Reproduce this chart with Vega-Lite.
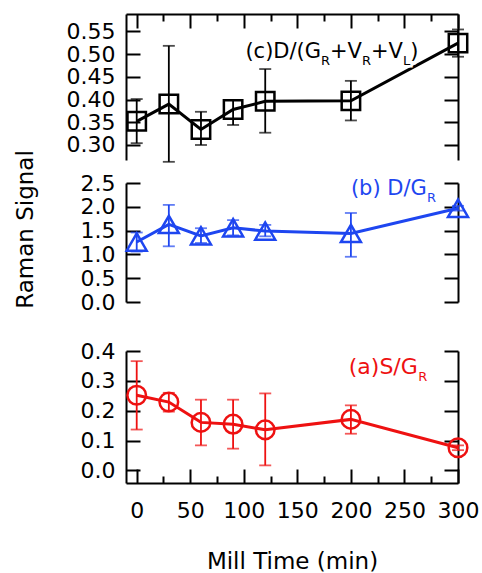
{
  "$schema": "https://vega.github.io/schema/vega-lite/v6.json",
  "padding": {"left": 13, "top": 13, "right": 5, "bottom": 0},
  "config": {
    "view": {"stroke": null},
    "font": "DejaVu Sans",
    "axis": {"grid": false, "domainColor": "#000", "domainWidth": 2, "tickColor": "#000", "tickWidth": 2, "labelColor": "#000", "labelFont": "DejaVu Sans", "labelFontSize": 22, "titleFont": "DejaVu Sans", "titleFontSize": 22, "titleFontWeight": "normal", "titleColor": "#000", "labelFlush": false, "labelOverlap": false}
  },
  "datasets": {
    "c": [
      {"t": 0, "v": 0.352, "lo": 0.304, "hi": 0.401},
      {"t": 30, "v": 0.390, "lo": 0.263, "hi": 0.518},
      {"t": 60, "v": 0.334, "lo": 0.300, "hi": 0.373},
      {"t": 90, "v": 0.378, "lo": 0.344, "hi": 0.399},
      {"t": 120, "v": 0.396, "lo": 0.327, "hi": 0.467},
      {"t": 200, "v": 0.397, "lo": 0.354, "hi": 0.441},
      {"t": 300, "v": 0.524, "lo": 0.494, "hi": 0.554}
    ],
    "b": [
      {"t": 0, "v": 1.26, "lo": 1.06, "hi": 1.46},
      {"t": 30, "v": 1.63, "lo": 1.17, "hi": 2.04},
      {"t": 60, "v": 1.39, "lo": 1.24, "hi": 1.55},
      {"t": 90, "v": 1.56, "lo": 1.40, "hi": 1.72},
      {"t": 120, "v": 1.49, "lo": 1.38, "hi": 1.62},
      {"t": 200, "v": 1.44, "lo": 0.95, "hi": 1.87},
      {"t": 300, "v": 1.97, "lo": 1.92, "hi": 2.02}
    ],
    "a": [
      {"t": 0, "v": 0.252, "lo": 0.137, "hi": 0.366},
      {"t": 30, "v": 0.229, "lo": 0.197, "hi": 0.260},
      {"t": 60, "v": 0.161, "lo": 0.084, "hi": 0.237},
      {"t": 90, "v": 0.155, "lo": 0.073, "hi": 0.237},
      {"t": 120, "v": 0.136, "lo": 0.017, "hi": 0.258},
      {"t": 200, "v": 0.171, "lo": 0.123, "hi": 0.218},
      {"t": 300, "v": 0.076, "lo": 0.068, "hi": 0.084}
    ]
  },
  "spacing": 23,
  "bounds": "flush",
  "vconcat": [
    {
      "width": 332,
      "height": 146,
      "data": {"name": "c"},
      "layer": [
        {"mark": {"type": "rule", "color": "#000", "strokeWidth": 1.8},
         "encoding": {
           "x": {"field": "t", "type": "quantitative", "scale": {"domain": [-10, 300], "nice": false, "zero": false}, "axis": null},
           "y": {"field": "lo", "type": "quantitative", "scale": {"domain": [0.267, 0.588], "nice": false, "zero": false}, "axis": null},
           "y2": {"field": "hi"}}},
        {"mark": {"type": "tick", "orient": "horizontal", "color": "#000", "size": 12, "thickness": 1.8},
         "encoding": {
           "x": {"field": "t", "type": "quantitative", "scale": {"domain": [-10, 300], "nice": false, "zero": false}, "axis": null},
           "y": {"field": "lo", "type": "quantitative", "scale": {"domain": [0.267, 0.588], "nice": false, "zero": false}, "axis": null}}},
        {"mark": {"type": "tick", "orient": "horizontal", "color": "#000", "size": 12, "thickness": 1.8},
         "encoding": {
           "x": {"field": "t", "type": "quantitative", "scale": {"domain": [-10, 300], "nice": false, "zero": false}, "axis": null},
           "y": {"field": "hi", "type": "quantitative", "scale": {"domain": [0.267, 0.588], "nice": false, "zero": false}, "axis": null}}},
        {"mark": {"type": "line", "color": "#000", "strokeWidth": 3},
         "encoding": {
           "x": {"field": "t", "type": "quantitative", "scale": {"domain": [-10, 300], "nice": false, "zero": false},
                 "axis": {"orient": "top", "title": null, "labels": false, "values": [0, 25, 50, 75, 100, 125, 150, 175, 200, 225, 250, 275, 300],
                          "tickSize": {"condition": {"test": "datum.value % 50 === 0", "value": -14}, "value": -7}}},
           "y": {"field": "v", "type": "quantitative", "scale": {"domain": [0.267, 0.588], "nice": false, "zero": false},
                 "axis": {"orient": "left", "title": null, "values": [0.30, 0.35, 0.40, 0.45, 0.50, 0.55], "format": ".2f", "tickSize": -14, "labelPadding": 25}}}},
        {"mark": {"type": "point", "shape": "square", "size": 340, "filled": false, "strokeWidth": 2.5, "color": "#000", "opacity": 1},
         "encoding": {
           "x": {"field": "t", "type": "quantitative", "scale": {"domain": [-10, 300], "nice": false, "zero": false}, "axis": null},
           "y": {"field": "v", "type": "quantitative", "scale": {"domain": [0.267, 0.588], "nice": false, "zero": false},
                 "axis": {"orient": "right", "title": null, "labels": false, "values": [0.30, 0.35, 0.40, 0.45, 0.50, 0.55], "tickSize": -14}}}},
        {"data": {"values": [{}]},
         "encoding": {
           "x": {"datum": 101.5, "type": "quantitative", "scale": {"domain": [-10, 300], "nice": false, "zero": false}, "axis": null},
           "y": {"datum": 0.4906, "type": "quantitative", "scale": {"domain": [0.267, 0.588], "nice": false, "zero": false}, "axis": null}},
         "layer": [
           {"mark": {"type": "text", "text": ")", "font": "DejaVu Sans", "fontSize": 21, "align": "left", "baseline": "alphabetic", "color": "#fff", "stroke": "#fff", "strokeWidth": 7, "dx": 164.8}},
           {"mark": {"type": "text", "text": "L", "font": "DejaVu Sans", "fontSize": 13, "align": "left", "baseline": "alphabetic", "color": "#fff", "stroke": "#fff", "strokeWidth": 5, "dx": 157.6, "dy": 7}},
           {"mark": {"type": "text", "text": "(c)D/(G", "font": "DejaVu Sans", "fontSize": 21, "align": "left", "baseline": "alphabetic", "color": "#000", "dx": 0}},
           {"mark": {"type": "text", "text": "R", "font": "DejaVu Sans", "fontSize": 13, "align": "left", "baseline": "alphabetic", "color": "#000", "dx": 75.6, "dy": 7}},
           {"mark": {"type": "text", "text": "+V", "font": "DejaVu Sans", "fontSize": 21, "align": "left", "baseline": "alphabetic", "color": "#000", "dx": 84.6}},
           {"mark": {"type": "text", "text": "R", "font": "DejaVu Sans", "fontSize": 13, "align": "left", "baseline": "alphabetic", "color": "#000", "dx": 116.6, "dy": 7}},
           {"mark": {"type": "text", "text": "+V", "font": "DejaVu Sans", "fontSize": 21, "align": "left", "baseline": "alphabetic", "color": "#000", "dx": 125.6}},
           {"mark": {"type": "text", "text": "L", "font": "DejaVu Sans", "fontSize": 13, "align": "left", "baseline": "alphabetic", "color": "#000", "dx": 157.6, "dy": 7}},
           {"mark": {"type": "text", "text": ")", "font": "DejaVu Sans", "fontSize": 21, "align": "left", "baseline": "alphabetic", "color": "#000", "dx": 164.8}}
         ]}
      ],
      "resolve": {"axis": {"x": "independent", "y": "independent"}}
    },
    {
      "width": 332,
      "height": 119,
      "data": {"name": "b"},
      "layer": [
        {"mark": {"type": "rule", "color": "#1e46f0", "strokeWidth": 1.8},
         "encoding": {
           "x": {"field": "t", "type": "quantitative", "scale": {"domain": [-10, 300], "nice": false, "zero": false}, "axis": null},
           "y": {"field": "lo", "type": "quantitative", "scale": {"domain": [0, 2.5], "nice": false, "zero": false}, "axis": null},
           "y2": {"field": "hi"}}},
        {"mark": {"type": "tick", "orient": "horizontal", "color": "#1e46f0", "size": 12, "thickness": 1.8},
         "encoding": {
           "x": {"field": "t", "type": "quantitative", "scale": {"domain": [-10, 300], "nice": false, "zero": false}, "axis": null},
           "y": {"field": "lo", "type": "quantitative", "scale": {"domain": [0, 2.5], "nice": false, "zero": false}, "axis": null}}},
        {"mark": {"type": "tick", "orient": "horizontal", "color": "#1e46f0", "size": 12, "thickness": 1.8},
         "encoding": {
           "x": {"field": "t", "type": "quantitative", "scale": {"domain": [-10, 300], "nice": false, "zero": false}, "axis": null},
           "y": {"field": "hi", "type": "quantitative", "scale": {"domain": [0, 2.5], "nice": false, "zero": false}, "axis": null}}},
        {"mark": {"type": "line", "color": "#1e46f0", "strokeWidth": 3},
         "encoding": {
           "x": {"field": "t", "type": "quantitative", "scale": {"domain": [-10, 300], "nice": false, "zero": false}, "axis": null},
           "y": {"field": "v", "type": "quantitative", "scale": {"domain": [0, 2.5], "nice": false, "zero": false},
                 "axis": {"orient": "left", "title": "Raman Signal", "titleX": -94, "titleY": 46, "titleAngle": -90, "titleAlign": "center", "titleBaseline": "alphabetic", "titleFontSize": 23,
                          "values": [0, 0.5, 1, 1.5, 2, 2.5], "format": ".1f", "tickSize": -14, "labelPadding": 25}}}},
        {"mark": {"type": "point", "shape": "triangle-up", "size": 400, "filled": false, "strokeWidth": 2.5, "color": "#1e46f0", "opacity": 1},
         "encoding": {
           "x": {"field": "t", "type": "quantitative", "scale": {"domain": [-10, 300], "nice": false, "zero": false}, "axis": null},
           "y": {"field": "v", "type": "quantitative", "scale": {"domain": [0, 2.5], "nice": false, "zero": false},
                 "axis": {"orient": "right", "title": null, "labels": false, "values": [0, 0.5, 1, 1.5, 2, 2.5], "tickSize": -14}}}},
        {"data": {"values": [{}]},
         "encoding": {
           "x": {"datum": 200, "type": "quantitative", "scale": {"domain": [-10, 300], "nice": false, "zero": false}, "axis": null},
           "y": {"datum": 2.24, "type": "quantitative", "scale": {"domain": [0, 2.5], "nice": false, "zero": false}, "axis": null}},
         "layer": [
           {"mark": {"type": "text", "text": "(b) D/G", "font": "DejaVu Sans", "fontSize": 21, "align": "left", "baseline": "alphabetic", "color": "#1e46f0", "dx": 0}},
           {"mark": {"type": "text", "text": "R", "font": "DejaVu Sans", "fontSize": 13, "align": "left", "baseline": "alphabetic", "color": "#1e46f0", "dx": 76, "dy": 7}}
         ]}
      ],
      "resolve": {"axis": {"x": "independent", "y": "independent"}}
    },
    {
      "width": 332,
      "height": 3,
      "data": {"values": [{}]},
      "mark": {"type": "point", "opacity": 0}
    },
    {
      "width": 332,
      "height": 132,
      "data": {"name": "a"},
      "layer": [
        {"mark": {"type": "rule", "color": "#ee1111", "strokeWidth": 1.8},
         "encoding": {
           "x": {"field": "t", "type": "quantitative", "scale": {"domain": [-10, 300], "nice": false, "zero": false}, "axis": null},
           "y": {"field": "lo", "type": "quantitative", "scale": {"domain": [-0.042, 0.4], "nice": false, "zero": false}, "axis": null},
           "y2": {"field": "hi"}}},
        {"mark": {"type": "tick", "orient": "horizontal", "color": "#ee1111", "size": 12, "thickness": 1.8},
         "encoding": {
           "x": {"field": "t", "type": "quantitative", "scale": {"domain": [-10, 300], "nice": false, "zero": false}, "axis": null},
           "y": {"field": "lo", "type": "quantitative", "scale": {"domain": [-0.042, 0.4], "nice": false, "zero": false}, "axis": null}}},
        {"mark": {"type": "tick", "orient": "horizontal", "color": "#ee1111", "size": 12, "thickness": 1.8},
         "encoding": {
           "x": {"field": "t", "type": "quantitative", "scale": {"domain": [-10, 300], "nice": false, "zero": false}, "axis": null},
           "y": {"field": "hi", "type": "quantitative", "scale": {"domain": [-0.042, 0.4], "nice": false, "zero": false}, "axis": null}}},
        {"mark": {"type": "line", "color": "#ee1111", "strokeWidth": 3},
         "encoding": {
           "x": {"field": "t", "type": "quantitative", "scale": {"domain": [-10, 300], "nice": false, "zero": false},
                 "axis": {"orient": "bottom", "title": "Mill Time (min)", "titleFontSize": 23, "titlePadding": 22, "values": [0, 25, 50, 75, 100, 125, 150, 175, 200, 225, 250, 275, 300],
                          "labelExpr": "datum.value % 50 === 0 ? datum.label : ''", "labelPadding": 31,
                          "tickSize": {"condition": {"test": "datum.value % 50 === 0", "value": -14}, "value": -7}}},
           "y": {"field": "v", "type": "quantitative", "scale": {"domain": [-0.042, 0.4], "nice": false, "zero": false},
                 "axis": {"orient": "left", "title": null, "values": [0, 0.1, 0.2, 0.3, 0.4], "format": ".1f", "tickSize": -14, "labelPadding": 25}}}},
        {"mark": {"type": "point", "shape": "circle", "size": 346, "filled": false, "strokeWidth": 2.5, "color": "#ee1111", "opacity": 1},
         "encoding": {
           "x": {"field": "t", "type": "quantitative", "scale": {"domain": [-10, 300], "nice": false, "zero": false}, "axis": null},
           "y": {"field": "v", "type": "quantitative", "scale": {"domain": [-0.042, 0.4], "nice": false, "zero": false},
                 "axis": {"orient": "right", "title": null, "labels": false, "values": [0, 0.1, 0.2, 0.3, 0.4], "tickSize": -14}}}},
        {"data": {"values": [{}]},
         "encoding": {
           "x": {"datum": 198, "type": "quantitative", "scale": {"domain": [-10, 300], "nice": false, "zero": false}, "axis": null},
           "y": {"datum": 0.323, "type": "quantitative", "scale": {"domain": [-0.042, 0.4], "nice": false, "zero": false}, "axis": null}},
         "layer": [
           {"mark": {"type": "text", "text": "(a)S/G", "font": "DejaVu Sans", "fontSize": 22, "align": "left", "baseline": "alphabetic", "color": "#ee1111", "dx": 0}},
           {"mark": {"type": "text", "text": "R", "font": "DejaVu Sans", "fontSize": 13, "align": "left", "baseline": "alphabetic", "color": "#ee1111", "dx": 69.5, "dy": 7}}
         ]}
      ],
      "resolve": {"axis": {"x": "independent", "y": "independent"}}
    }
  ]
}
